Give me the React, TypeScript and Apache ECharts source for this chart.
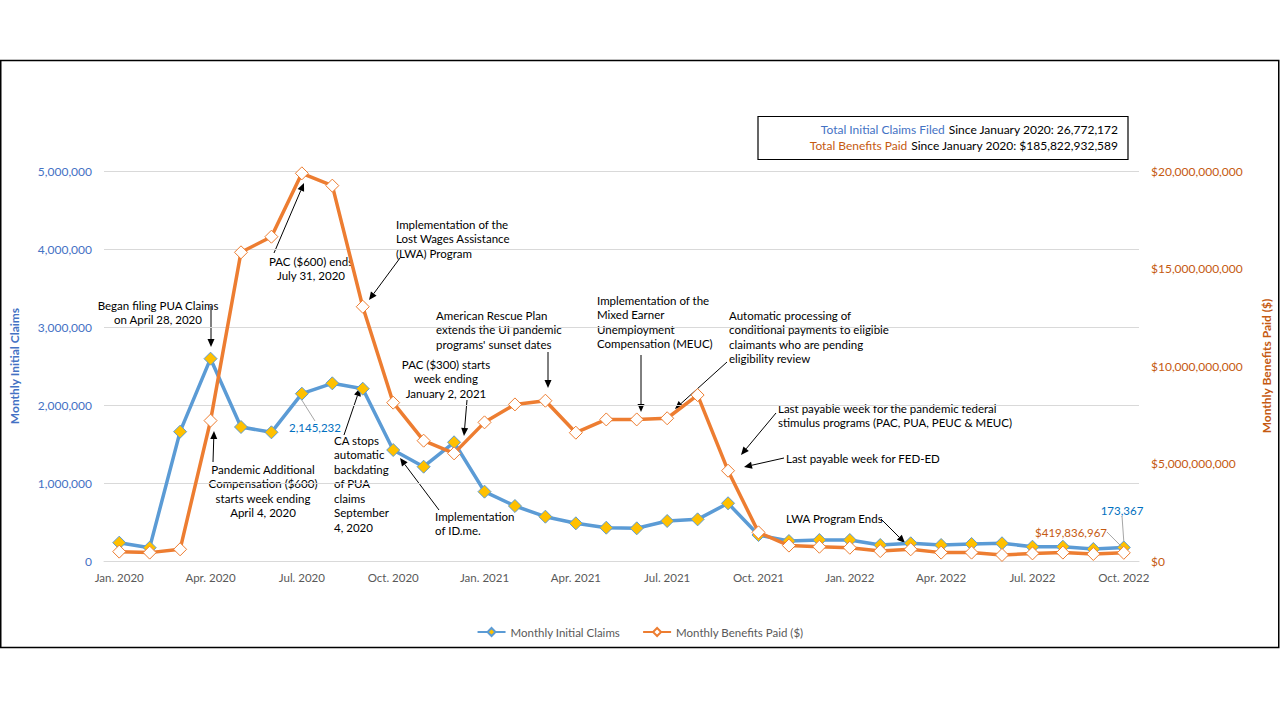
import React, { useEffect, useRef } from "react";
import * as echarts from "echarts";

const categories = [
  "Jan. 2020", "Feb. 2020", "Mar. 2020", "Apr. 2020", "May 2020", "Jun. 2020",
  "Jul. 2020", "Aug. 2020", "Sep. 2020", "Oct. 2020", "Nov. 2020", "Dec. 2020",
  "Jan. 2021", "Feb. 2021", "Mar. 2021", "Apr. 2021", "May 2021", "Jun. 2021",
  "Jul. 2021", "Aug. 2021", "Sep. 2021", "Oct. 2021", "Nov. 2021", "Dec. 2021",
  "Jan. 2022", "Feb. 2022", "Mar. 2022", "Apr. 2022", "May 2022", "Jun. 2022",
  "Jul. 2022", "Aug. 2022", "Sep. 2022", "Oct. 2022",
];

const monthlyInitialClaims = [
  235000, 171000, 1658000, 2594000, 1718000, 1650000, 2145232, 2278000, 2209000,
  1423000, 1209000, 1522000, 889000, 705000, 568000, 483000, 427000, 419000,
  513000, 534000, 740000, 333000, 256000, 269000, 269000, 205000, 227000,
  205000, 218000, 227000, 183000, 183000, 154000, 173367,
];

const monthlyBenefitsPaid = [
  480000000, 430000000, 600000000, 7200000000, 15830000000, 16630000000,
  19880000000, 19250000000, 13040000000, 8120000000, 6170000000, 5520000000,
  7110000000, 8030000000, 8220000000, 6580000000, 7260000000, 7260000000,
  7320000000, 8510000000, 4630000000, 1470000000, 790000000, 730000000,
  680000000, 510000000, 600000000, 430000000, 430000000, 310000000, 390000000,
  430000000, 360000000, 419836967,
];

const leftTicks = { min: 0, max: 5000000, interval: 1000000 };
const rightTicks = { min: 0, max: 20000000000, interval: 5000000000 };

const totalClaims = "26,772,172";
const totalBenefits = "$185,822,932,589";

const claimsLabelIdx = [6, 33];
const benefitsLabelIdx = [33];

const annotations = [
  { lines: ["Began filing PUA Claims", "on April 28, 2020"], x: 158, y: 305, align: "center" },
  { lines: ["PAC ($600) ends", "July 31, 2020"], x: 311, y: 261, align: "center" },
  { lines: ["Implementation of the", "Lost Wages Assistance", "(LWA) Program"], x: 396, y: 224, align: "left" },
  { lines: ["Pandemic Additional", "Compensation ($600)", "starts week ending", "April 4, 2020"], x: 263, y: 469, align: "center" },
  { lines: ["CA stops", "automatic", "backdating", "of PUA", "claims", "September", "4, 2020"], x: 334, y: 440, align: "left" },
  { lines: ["Implementation", "of ID.me."], x: 435, y: 516, align: "left" },
  { lines: ["PAC ($300) starts", "week ending", "January 2, 2021"], x: 446, y: 364, align: "center" },
  { lines: ["American Rescue Plan", "extends the UI pandemic", "programs' sunset dates"], x: 436, y: 315, align: "left" },
  { lines: ["Implementation of the", "Mixed Earner", "Unemployment", "Compensation (MEUC)"], x: 597, y: 300, align: "left" },
  { lines: ["Automatic processing of", "conditional payments to eligible", "claimants who are pending", "eligibility review"], x: 729, y: 315, align: "left" },
  { lines: ["Last payable week for the pandemic federal", "stimulus programs (PAC, PUA, PEUC & MEUC)"], x: 778, y: 408, align: "left" },
  { lines: ["Last payable week for FED-ED"], x: 786, y: 458, align: "left" },
  { lines: ["LWA Program Ends"], x: 786, y: 518, align: "left" },
];

const arrows = [
  [211, 306, 211, 347],
  [274, 253, 304, 183],
  [400, 258, 369, 300],
  [213, 462, 214, 431],
  [344, 435, 360, 388],
  [439, 510, 400, 458],
  [467, 400, 464, 436],
  [548, 352, 548, 388],
  [641, 355, 641, 412],
  [727, 362, 675, 409],
  [776, 413, 741, 455],
  [784, 458, 744, 467],
  [881, 519, 905, 543],
];

const FONT = "Lato, 'Noto Sans', sans-serif";
const BLUE_T = "#4472C4";
const ORANGE_T = "#C55A11";
const LINE_H = 14.5;

const fmt = (v: number) => v.toLocaleString("en-US");

function arrowGraphics(a: number[]) {
  const [x1, y1, x2, y2] = a;
  const dx = x2 - x1;
  const dy = y2 - y1;
  const len = Math.sqrt(dx * dx + dy * dy);
  const ux = dx / len;
  const uy = dy / len;
  const hl = 8;
  const hw = 3.5;
  const bx = x2 - ux * hl;
  const by = y2 - uy * hl;
  return [
    {
      type: "line",
      shape: { x1, y1, x2: bx, y2: by },
      style: { stroke: "#000", lineWidth: 1 },
      silent: true,
    },
    {
      type: "polygon",
      shape: {
        points: [
          [x2, y2],
          [bx - uy * hw, by + ux * hw],
          [bx + uy * hw, by - ux * hw],
        ],
      },
      style: { fill: "#000" },
      silent: true,
    },
  ];
}

export default function App() {
  const ref = useRef<HTMLDivElement>(null);

  useEffect(() => {
    document.body.style.margin = "0";
    const chart = echarts.init(ref.current!, null, { renderer: "svg" });

    const claimsData = monthlyInitialClaims.map((v, i) =>
      claimsLabelIdx.includes(i)
        ? {
            value: v,
            label: {
              show: true,
              formatter: () => fmt(v),
              color: "#0070C0",
              fontSize: 11.5,
              fontFamily: FONT,
            },
            labelLine: { show: true, lineStyle: { color: "#a6a6a6", width: 1 } },
          }
        : v
    );
    const benefitsData = monthlyBenefitsPaid.map((v, i) =>
      benefitsLabelIdx.includes(i)
        ? {
            value: v,
            label: {
              show: true,
              formatter: () => "$" + fmt(v),
              color: ORANGE_T,
              fontSize: 11.5,
              fontFamily: FONT,
            },
            labelLine: { show: true, lineStyle: { color: "#a6a6a6", width: 1 } },
          }
        : v
    );

    const graphics: any[] = [
      {
        type: "rect",
        shape: { x: 0.75, y: 60.5, width: 1278, height: 587 },
        style: { fill: "none", stroke: "#000", lineWidth: 1.5 },
        silent: true,
        z: 0,
      },
      {
        type: "rect",
        shape: { x: 758, y: 116.5, width: 370, height: 43 },
        style: { fill: "#fff", stroke: "#000", lineWidth: 1.2 },
        silent: true,
      },
      {
        type: "text",
        x: 1118,
        y: 137.5,
        style: {
          text:
            "{b|Total Initial Claims Filed} {k|Since January 2020: " + totalClaims + "}\n" +
            "{o|Total Benefits Paid} {k|Since January 2020: " + totalBenefits + "}",
          align: "right",
          verticalAlign: "middle",
          lineHeight: 16,
          rich: {
            b: { fill: BLUE_T, fontFamily: FONT, fontSize: 12, lineHeight: 16 },
            o: { fill: ORANGE_T, fontFamily: FONT, fontSize: 12, lineHeight: 16 },
            k: { fill: "#000", fontFamily: FONT, fontSize: 12, lineHeight: 16 },
          },
        },
        silent: true,
      },
    ];

    annotations.forEach((a) => {
      graphics.push({
        type: "text",
        x: a.x,
        y: a.y - LINE_H / 2,
        style: {
          text: a.lines.join("\n"),
          align: a.align,
          verticalAlign: "top",
          lineHeight: LINE_H,
          fontFamily: FONT,
          fontSize: 11.5,
          fill: "#000",
        },
        silent: true,
      });
    });
    arrows.forEach((a) => graphics.push(...arrowGraphics(a)));

    chart.setOption({
      animation: false,
      backgroundColor: "#fff",
      textStyle: { fontFamily: FONT },
      grid: { left: 103, right: 138, top: 171, bottom: 159, containLabel: false },
      legend: {
        left: "center",
        top: 621,
        itemWidth: 28,
        itemHeight: 10,
        itemGap: 22,
        textStyle: { color: "#595959", fontSize: 11.5, fontFamily: FONT },
        data: ["Monthly Initial Claims", "Monthly Benefits Paid ($)"],
      },
      xAxis: {
        type: "category",
        data: categories,
        boundaryGap: true,
        axisLine: { show: true, lineStyle: { color: "#d9d9d9" } },
        axisTick: { show: false },
        axisLabel: {
          interval: 2,
          color: "#595959",
          fontSize: 11.5,
          fontFamily: FONT,
          margin: 10,
        },
        splitLine: { show: false },
      },
      yAxis: [
        {
          type: "value",
          min: leftTicks.min,
          max: leftTicks.max,
          interval: leftTicks.interval,
          name: "Monthly Initial Claims",
          nameLocation: "middle",
          nameRotate: 90,
          nameGap: 84,
          nameTextStyle: { color: BLUE_T, fontWeight: "bold", fontSize: 12, fontFamily: FONT },
          axisLine: { show: false },
          axisTick: { show: false },
          axisLabel: {
            color: BLUE_T,
            fontSize: 12,
            fontFamily: FONT,
            margin: 12,
            formatter: (v: number) => fmt(v),
          },
          splitLine: { show: true, lineStyle: { color: "#d9d9d9", width: 1 } },
        },
        {
          type: "value",
          position: "right",
          min: rightTicks.min,
          max: rightTicks.max,
          interval: rightTicks.interval,
          name: "Monthly Benefits Paid ($)",
          nameLocation: "middle",
          nameRotate: 90,
          nameGap: 121,
          nameTextStyle: { color: ORANGE_T, fontWeight: "bold", fontSize: 12, fontFamily: FONT },
          axisLine: { show: false },
          axisTick: { show: false },
          axisLabel: {
            color: ORANGE_T,
            fontSize: 12,
            fontFamily: FONT,
            margin: 12,
            formatter: (v: number) => "$" + fmt(v),
          },
          splitLine: { show: false },
        },
      ],
      series: [
        {
          name: "Monthly Initial Claims",
          type: "line",
          yAxisIndex: 0,
          data: claimsData,
          symbol: "diamond",
          symbolSize: 13,
          lineStyle: { color: "#5B9BD5", width: 3.5 },
          itemStyle: { color: "#FFC000", borderColor: "#5B9BD5", borderWidth: 1 },
          labelLayout: (p: any) =>
            p.dataIndex === 6
              ? { x: 315, y: 427, align: "center", verticalAlign: "middle" }
              : { x: 1122, y: 510, align: "center", verticalAlign: "middle" },
          z: 2,
        },
        {
          name: "Monthly Benefits Paid ($)",
          type: "line",
          yAxisIndex: 1,
          data: benefitsData,
          symbol: "diamond",
          symbolSize: 13,
          lineStyle: { color: "#ED7D31", width: 3.5 },
          itemStyle: { color: "#ffffff", borderColor: "#ED7D31", borderWidth: 1 },
          labelLayout: () => ({ x: 1071, y: 532, align: "center", verticalAlign: "middle" }),
          z: 3,
        },
      ],
      graphic: graphics,
    });

    return () => chart.dispose();
  }, []);

  return <div ref={ref} style={{ width: 1280, height: 720 }} />;
}
